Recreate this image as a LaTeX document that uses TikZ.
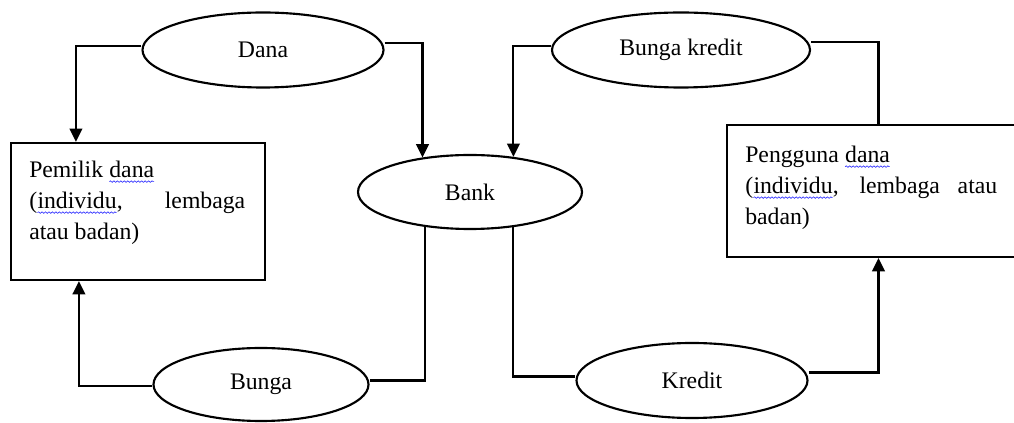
\documentclass[tikz,border=0pt]{standalone}
\usepackage{fontspec}
\setmainfont{Liberation Serif}
\usetikzlibrary{shapes.geometric,arrows.meta,calc,decorations.pathmorphing}
\tikzset{
  oval/.style={ellipse, draw, line width=1.6pt, inner sep=0pt, font=\fontsize{17.8}{23.25}\selectfont},
  boxnode/.style={rectangle, draw, line width=1.6pt, inner sep=0pt},
  txt/.style={anchor=base west, align=left, inner sep=0pt, font=\fontsize{17.8}{23.25}\selectfont},
  conn/.style={line width=1.6pt},
  arr/.style={conn, -{Triangle[width=9.5pt,length=10pt]}},
  wavy/.style={draw=blue!80!white, line width=0.5pt, decorate, decoration={snake, amplitude=0.55pt, segment length=2.6pt}}
}
\newcommand\wavword[1]{\tikz[baseline=(w.base)]{\node[anchor=base, inner sep=0pt, outer sep=0pt, align=none] (w) {#1};\draw[wavy] ([yshift=-2.7pt]w.base west) -- ([yshift=-2.7pt]w.base east);}}
\begin{document}
\begin{tikzpicture}[x=0.75pt,y=-0.75pt]
\useasboundingbox (0,0) rectangle (1014,423);
\clip (0,0) rectangle (1014,423);
% ellipses
\node[oval, minimum width=180.75pt, minimum height=56.25pt] (dana) at (263,50) {Dana};
\node[oval, minimum width=168pt, minimum height=55.5pt] (bank) at (470,192) {Bank};
\node[oval, minimum width=193.5pt, minimum height=56.25pt] (bk) at (681,50) {Bunga kredit};
\node[oval, minimum width=161.25pt, minimum height=54.75pt] (bunga) at (261,384.5) {Bunga};
\node[oval, minimum width=173.25pt, minimum height=56.25pt] (kredit) at (692,380.5) {Kredit};
% boxes
\node[boxnode, minimum width=190.5pt, minimum height=102.75pt] (pem) at (138,211.5) {};
\node[boxnode, minimum width=227.25pt, minimum height=99pt] (peng) at (878.5,191) {};
\node[txt] (pemtxt) at (29,240) {Pemilik \wavword{dana}\\\makebox[162pt][s]{(\wavword{individu}, lembaga}\\atau badan)};
\node[txt] (pengtxt) at (745,225) {Pengguna \wavword{dana}\\\makebox[189pt][s]{(\wavword{individu}, lembaga atau}\\badan)};
% connectors
\draw[arr] ([yshift=3pt]dana.west) -| ($(pem.north west)+(66,0)$);
\draw[arr] ([yshift=5pt]dana.east) -| (bank.144);
\draw[arr] ([yshift=3pt]bk.west) -| (bank.39);
\draw[conn] ([yshift=6pt]bk.east) -| (peng.north);
\draw[conn] (bank.218) |- ([yshift=3pt]bunga.east);
\draw[arr] ([yshift=-1pt]bunga.west) -| ($(pem.south west)+(69,0)$);
\draw[conn] (bank.321) |- ([yshift=3pt]kredit.west);
\draw[arr] ([yshift=6pt]kredit.east) -| (peng.south);
\end{tikzpicture}
\end{document}
